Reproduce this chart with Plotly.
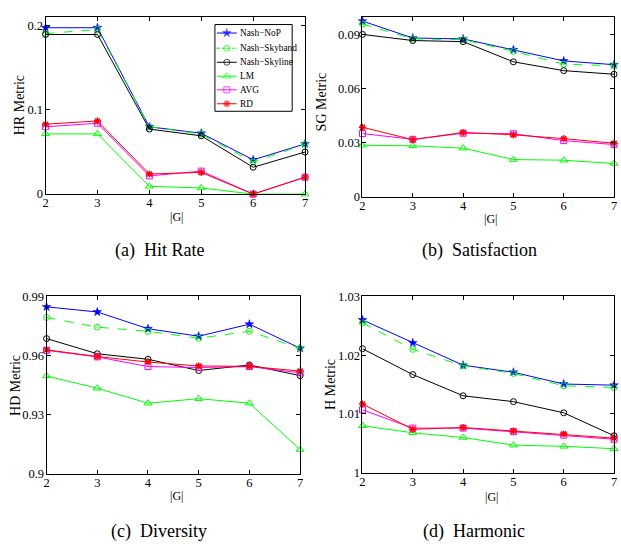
import plotly.graph_objects as go

G = [2, 3, 4, 5, 6, 7]
series_names = ["Nash−NoP", "Nash−Skyband", "Nash−Skyline", "LM", "AVG", "RD"]

# (a) Hit Rate
hr_nop      = [0.197, 0.197, 0.0797, 0.072, 0.0406, 0.0594]
hr_skyband  = [0.190, 0.195, 0.080, 0.071, 0.038, 0.059]
hr_skyline  = [0.189, 0.189, 0.077, 0.069, 0.0318, 0.0498]
hr_lm       = [0.0713, 0.0713, 0.0092, 0.0073, 0.0, 0.0]
hr_avg      = [0.0797, 0.0839, 0.0215, 0.0272, 0.0, 0.020]
hr_rd       = [0.0828, 0.0866, 0.0238, 0.0257, 0.0, 0.020]

# (b) Satisfaction
sg_nop      = [0.0976, 0.0882, 0.0877, 0.0817, 0.0755, 0.0734]
sg_skyband  = [0.0960, 0.0877, 0.0873, 0.0808, 0.0737, 0.0728]
sg_skyline  = [0.0902, 0.0868, 0.0862, 0.0750, 0.0701, 0.0681]
sg_lm       = [0.0287, 0.0284, 0.0271, 0.0208, 0.0204, 0.0186]
sg_avg      = [0.0352, 0.0320, 0.0354, 0.0351, 0.0313, 0.0291]
sg_rd       = [0.0387, 0.0318, 0.0358, 0.0345, 0.0324, 0.0298]

# (c) Diversity
hd_nop      = [0.9847, 0.9821, 0.9736, 0.9698, 0.9759, 0.9637]
hd_skyband  = [0.9793, 0.9744, 0.9723, 0.9688, 0.9723, 0.9637]
hd_skyline  = [0.9686, 0.9609, 0.9581, 0.9524, 0.9552, 0.9498]
hd_lm       = [0.9496, 0.9434, 0.9358, 0.9381, 0.9358, 0.9123]
hd_avg      = [0.9626, 0.9593, 0.9544, 0.9539, 0.9544, 0.9512]
hd_rd       = [0.9629, 0.9595, 0.9567, 0.9547, 0.9545, 0.9521]

# (d) Harmonic
h_nop       = [1.0260, 1.0221, 1.0183, 1.0171, 1.0151, 1.0149]
h_skyband   = [1.0255, 1.0210, 1.0182, 1.0169, 1.0148, 1.0145]
h_skyline   = [1.0211, 1.0167, 1.0131, 1.0121, 1.0102, 1.0063]
h_lm        = [1.0080, 1.0068, 1.0060, 1.0047, 1.0045, 1.0041]
h_avg       = [1.0107, 1.0076, 1.0076, 1.0070, 1.0064, 1.0057]
h_rd        = [1.0117, 1.0074, 1.0077, 1.0071, 1.0066, 1.0059]

y_ticks_a = [0, 0.1, 0.2];        y_text_a = ["0", "0.1", "0.2"]
y_ticks_b = [0, 0.03, 0.06, 0.09]; y_text_b = ["0", "0.03", "0.06", "0.09"]
y_ticks_c = [0.9, 0.93, 0.96, 0.99]; y_text_c = ["0.9", "0.93", "0.96", "0.99"]
y_ticks_d = [1, 1.01, 1.02, 1.03]; y_text_d = ["1", "1.01", "1.02", "1.03"]

panels = [
    ("x", "y", [hr_nop, hr_skyband, hr_skyline, hr_lm, hr_avg, hr_rd]),
    ("x2", "y2", [sg_nop, sg_skyband, sg_skyline, sg_lm, sg_avg, sg_rd]),
    ("x3", "y3", [hd_nop, hd_skyband, hd_skyline, hd_lm, hd_avg, hd_rd]),
    ("x4", "y4", [h_nop, h_skyband, h_skyline, h_lm, h_avg, h_rd]),
]

GREEN = "#00FF00"
styles = [
    dict(color="#0000FF", dash="solid", symbol="star", size=6.5, lw=0.5),
    dict(color=GREEN, dash="dash", symbol="circle-open-dot", size=6, lw=1),
    dict(color="#000000", dash="solid", symbol="circle-open", size=6, lw=1),
    dict(color=GREEN, dash="solid", symbol="triangle-up-open", size=7, lw=1),
    dict(color="#FF00FF", dash="solid", symbol="square-open", size=6, lw=1),
    dict(color="#FF0000", dash="solid", symbol="asterisk-open", size=6, lw=1.3),
]

W, H = 621, 548
FONT = "Liberation Serif"

fig = go.Figure()
for xa, ya, data in panels:
    for name, vals, st in zip(series_names, data, styles):
        fig.add_trace(go.Scatter(
            x=G, y=vals, xaxis=xa, yaxis=ya, name=name, mode="lines+markers",
            line=dict(color=st["color"], width=1, dash=st["dash"]),
            marker=dict(symbol=st["symbol"], size=st["size"], color=st["color"],
                        line=dict(color=st["color"], width=st["lw"])),
            cliponaxis=False, showlegend=False))

# custom compact legend (pixel-coordinate overlay axis)
lx0, lx1, ly0, ly1 = 214, 292, 18, 107
fig.add_trace(go.Scatter(x=[lx0, lx1, lx1, lx0, lx0], y=[ly0, ly0, ly1, ly1, ly0],
                         xaxis="x5", yaxis="y5", mode="lines", fill="toself",
                         fillcolor="white", line=dict(color="black", width=1),
                         showlegend=False, hoverinfo="skip"))
rows = [26.7, 42.3, 56.7, 71, 85, 99.3]
annotations = []
for name, st, ry in zip(series_names, styles, rows):
    fig.add_trace(go.Scatter(
        x=[216, 226, 236], y=[ry, ry, ry], xaxis="x5", yaxis="y5", mode="lines+markers",
        line=dict(color=st["color"], width=1, dash=st["dash"] if st["dash"] == "solid" else "3px,2px"),
        marker=dict(symbol=st["symbol"], size=[0, st["size"], 0], color=st["color"],
                    line=dict(color=st["color"], width=st["lw"])),
        showlegend=False, hoverinfo="skip", cliponaxis=False))
    annotations.append(dict(x=237, y=ry, xref="x5", yref="y5", text=name, showarrow=False,
                            xanchor="left", yanchor="middle",
                            font=dict(family=FONT, size=9.3, color="black")))

def px_x(p):
    return p / W

def px_y(p):
    return 1 - p / H

def ax(domain, anchor, rng, tickvals, ticktext, standoff):
    return dict(domain=domain, anchor=anchor, range=rng, showline=True, linecolor="black",
                linewidth=1, mirror="ticks", ticks="inside", ticklen=4, tickcolor="black",
                showgrid=False, zeroline=False, ticklabeloverflow="allow",
                ticklabelstandoff=standoff, tickvals=tickvals, ticktext=ticktext,
                tickfont=dict(family=FONT, size=12.5, color="black"))

xd_a = [px_x(43), px_x(305)]
xd_b = [px_x(363), px_x(617)]
xd_c = [px_x(44), px_x(300)]
xd_d = [px_x(363), px_x(617)]
yd_a = [px_y(192), px_y(10)]
yd_b = [px_y(195), px_y(10)]
yd_c = [px_y(479), px_y(297)]
yd_d = [px_y(478), px_y(297)]
gt = [str(g) for g in G]

layout = dict(
    width=W, height=H, margin=dict(l=0, r=0, t=0, b=0),
    paper_bgcolor="white", plot_bgcolor="rgba(0,0,0,0)", showlegend=False,
    xaxis=ax(xd_a, "y", [2, 7], G, gt, -3),
    yaxis=ax(yd_a, "x", [0, 0.21], y_ticks_a, y_text_a, -1),
    xaxis2=ax(xd_b, "y2", [2, 7], G, gt, -3),
    yaxis2=ax(yd_b, "x2", [0, 0.1], y_ticks_b, y_text_b, -1),
    xaxis3=ax(xd_c, "y3", [2, 7], G, gt, -3),
    yaxis3=ax(yd_c, "x3", [0.9, 0.99], y_ticks_c, y_text_c, -1),
    xaxis4=ax(xd_d, "y4", [2, 7], G, gt, -3),
    yaxis4=ax(yd_d, "x4", [1, 1.03], y_ticks_d, y_text_d, -1),
    xaxis5=dict(domain=[0, 1], anchor="y5", range=[0, W], visible=False, fixedrange=True),
    yaxis5=dict(domain=[0, 1], anchor="x5", range=[H, 0], visible=False, fixedrange=True),
)

def pa(x, y, text, size, angle=0):
    return dict(x=x / W, y=1 - y / H, xref="paper", yref="paper", text=text, showarrow=False,
                xanchor="center", yanchor="middle", textangle=angle,
                font=dict(family=FONT, size=size, color="black"))

annotations += [
    pa(17, 101, "HR Metric", 14, -90),
    pa(322, 97, "SG Metric", 14, -90),
    pa(12, 388, "HD Metric", 14, -90),
    pa(330, 387, "H Metric", 14, -90),
    pa(175, 215, "|G|", 12),
    pa(492, 218, "|G|", 12),
    pa(175, 502, "|G|", 12),
    pa(493, 503, "|G|", 12),
    pa(158, 250, "(a)  Hit Rate", 18),
    pa(481, 250, "(b)  Satisfaction", 18),
    pa(158, 538, "(c)  Diversity", 18),
    pa(476, 538, "(d)  Harmonic", 18),
]
layout["annotations"] = annotations
fig.update_layout(**layout)
fig.write_html("out.html", config={"displayModeBar": False},
               post_script="document.body.style.margin='0';document.body.style.overflow='hidden';")
